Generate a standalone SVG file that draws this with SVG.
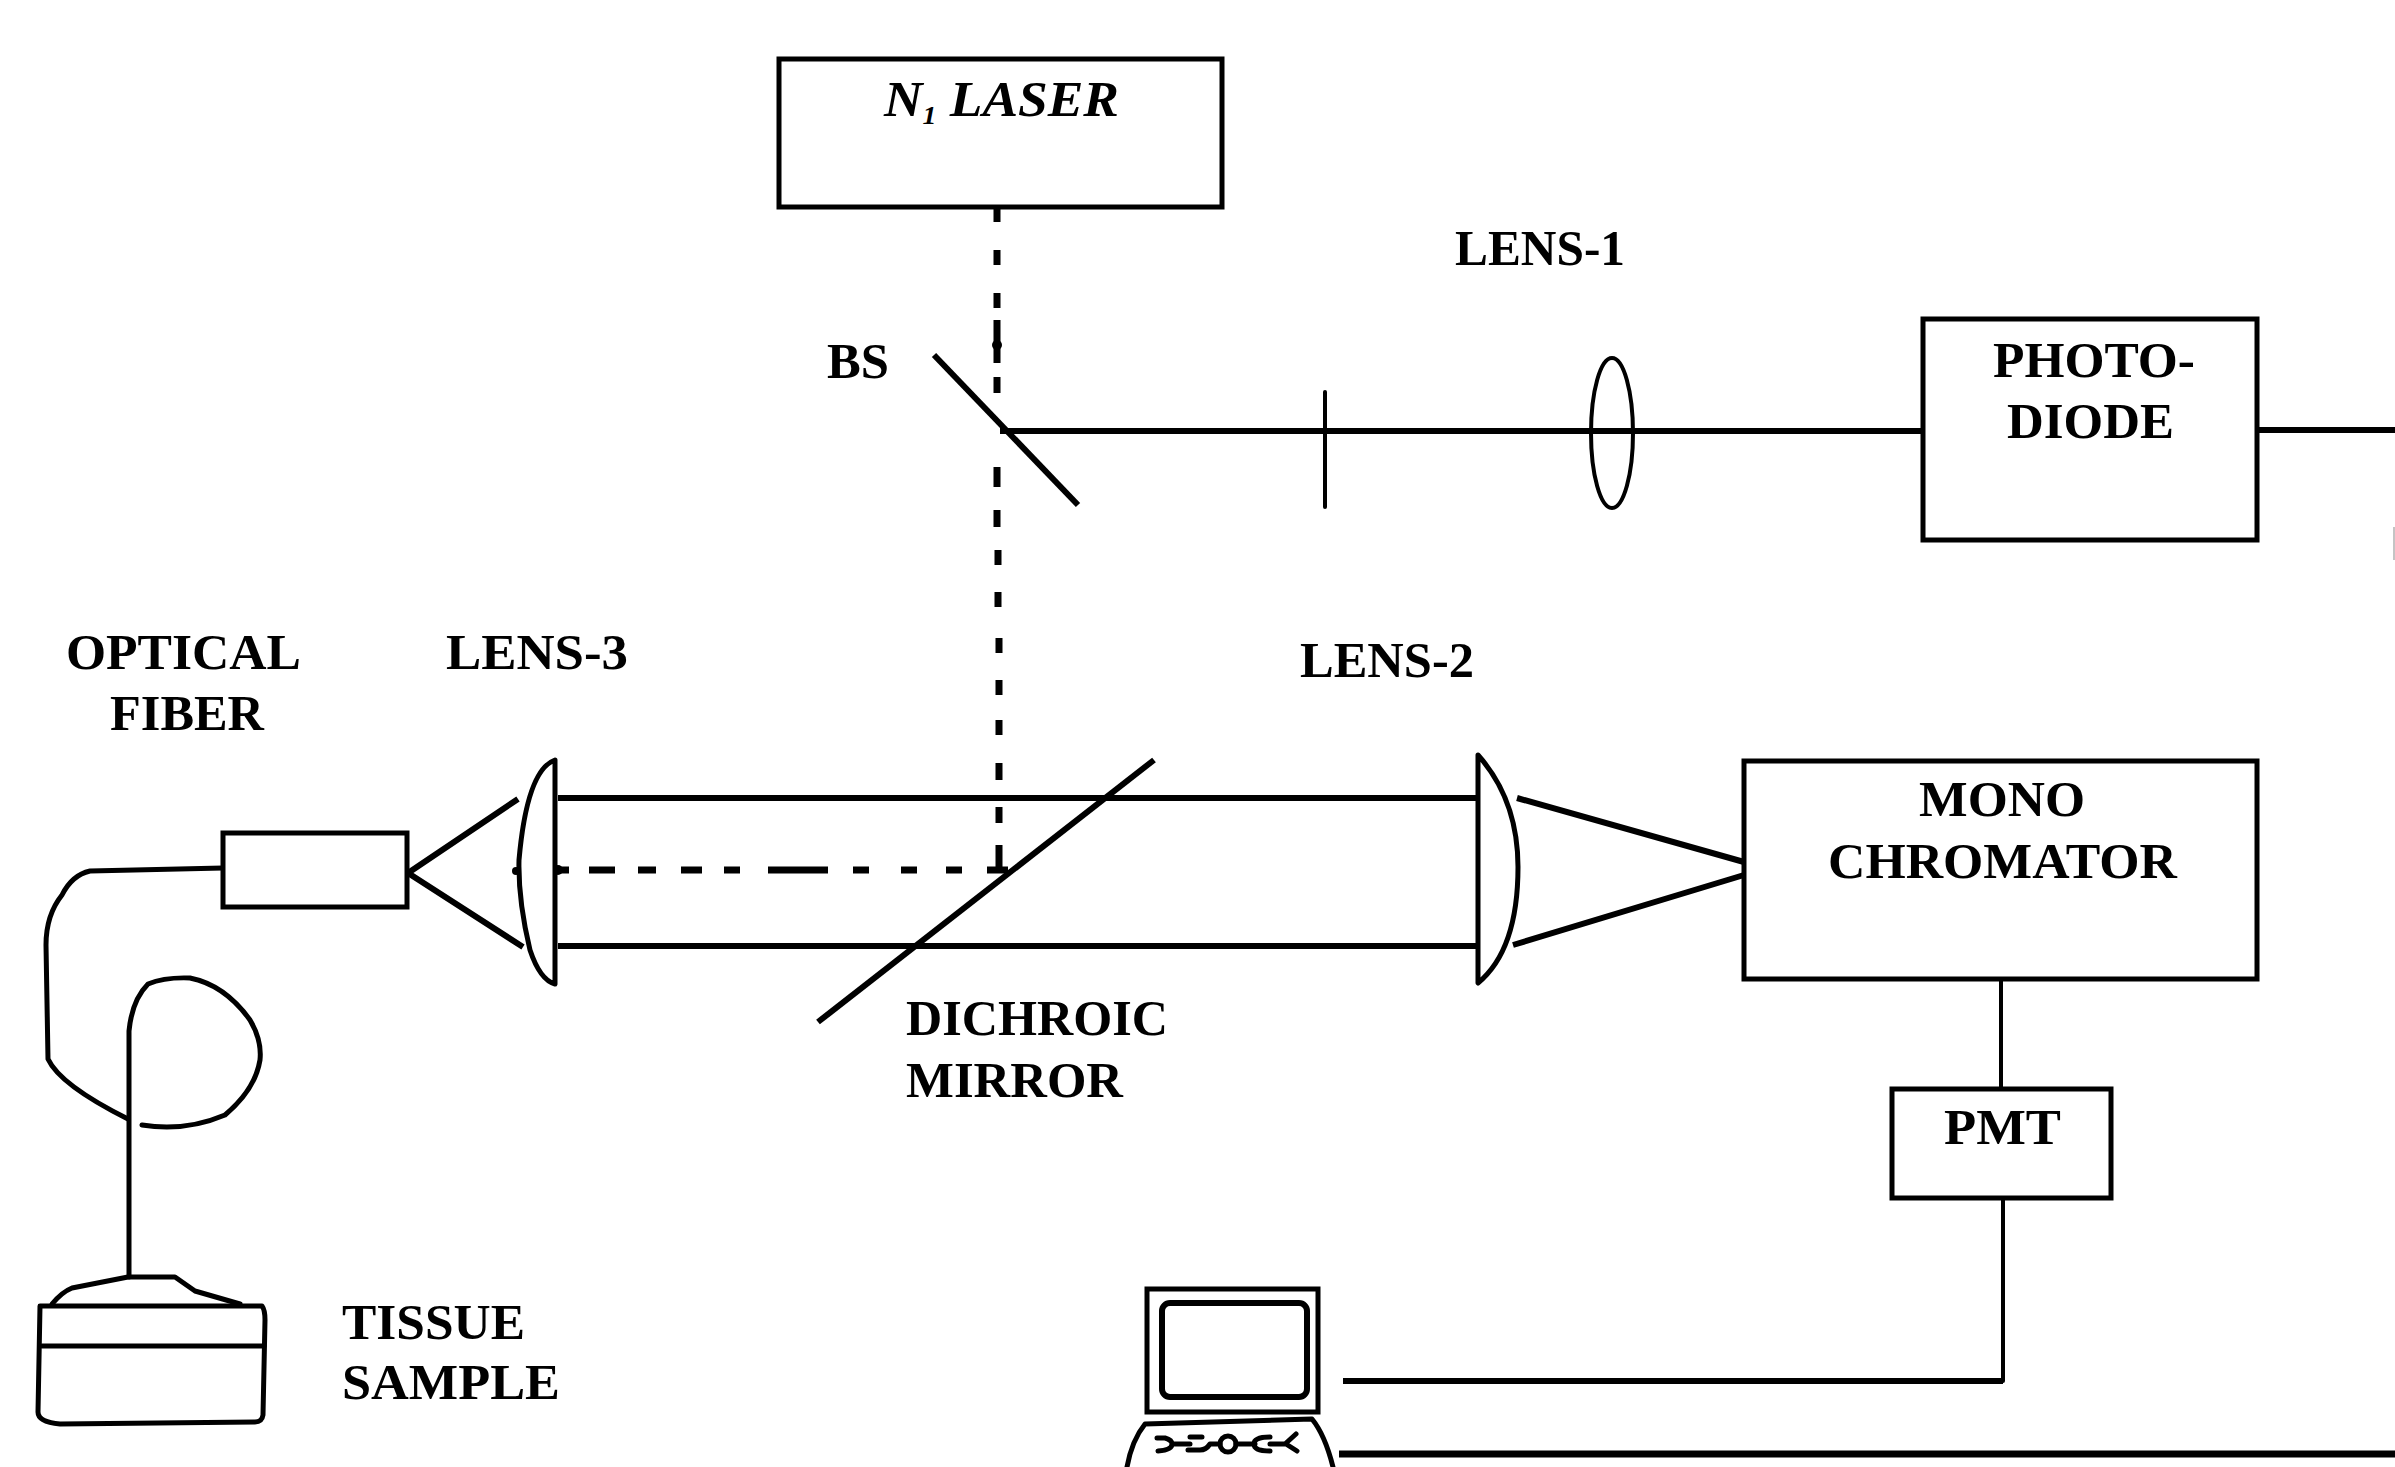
<svg xmlns="http://www.w3.org/2000/svg" width="2395" height="1467" viewBox="0 0 2395 1467">
<style>
.l{fill:none;stroke:#000;stroke-width:4;stroke-linejoin:round;stroke-linecap:round}
.f{fill:none;stroke:#000;stroke-width:5;stroke-linejoin:round;stroke-linecap:round}
.m{fill:none;stroke:#000;stroke-width:6;stroke-linejoin:round}
.b{fill:#fff;stroke:#000;stroke-width:5}
.d{fill:none;stroke:#000;stroke-width:7}
text{font-family:"Liberation Serif","Times New Roman",serif;font-weight:bold;font-size:50px;fill:#000}
</style>
<rect width="2395" height="1467" fill="#fff"/>
<line x1="2394" y1="527" x2="2394" y2="560" stroke="#b0b0b0" stroke-width="1.5"/>
<g id="connectors">
<path class="d" stroke-width="6" d="M997 207V222M997 250V265M997 293V308M997 320V363M997 377V393M997 467V487M997 510V527M998 550V565M998 592V607M999 638V653M999 680V695M999 720V735M999 763V780M999 807V823M999 845V870"/>
<circle cx="997" cy="345" r="5"/>
<path class="d" d="M559 870H569M589 870H615M638 870H656M681 870H702M724 870H740M768 870H828M853 870H869M901 870H917M946 870H962M987 870H1008"/>
<path class="m" d="M1000 431H1923M2257 430H2395"/>
<path class="m" d="M558 798H1478M558 946H1478"/>
<path class="m" d="M408 873L518 799M408 873L523 947"/>
<path class="m" d="M1517 798L1744 862M1513 945L1744 875"/>
<path class="l" d="M2001 979V1089M2003 1198V1381"/>
<path class="m" d="M1343 1381H2003"/>
<path class="m" style="stroke-width:7" d="M1339 1454H2395"/>
<path class="f" d="M223 868L90 871Q72 875 62 895Q46 915 46 945L48 1059Q60 1085 128 1119"/>
<path class="f" d="M129 1277V1031Q132 1000 148 984Q165 977 190 978Q225 985 250 1020Q262 1040 260 1060Q255 1090 225 1115Q185 1132 142 1125"/>
</g>
<g id="laser"><rect class="b" x="779" y="59" width="443" height="148"/><text x="884" y="116" font-style="italic" textLength="235" lengthAdjust="spacingAndGlyphs">N<tspan font-size="26" dy="8">1</tspan><tspan dy="-8"> LASER</tspan></text></g>
<g id="beam-splitter"><path class="m" d="M934 355L1078 505"/><text x="827" y="378" textLength="62" lengthAdjust="spacingAndGlyphs">BS</text></g>
<g id="aperture"><path class="l" d="M1325 392V507"/></g>
<g id="lens-1"><ellipse cx="1612" cy="433" rx="21" ry="75" class="l"/><text x="1455" y="265" textLength="170" lengthAdjust="spacingAndGlyphs">LENS-1</text></g>
<g id="photodiode"><rect class="b" x="1923" y="319" width="334" height="221"/><text x="1993" y="377" textLength="202" lengthAdjust="spacingAndGlyphs">PHOTO-</text><text x="2007" y="438" textLength="167" lengthAdjust="spacingAndGlyphs">DIODE</text></g>
<g id="lens-3"><path class="f" d="M555 760Q527 770 519 860Q518 900 530 950Q540 980 555 984Z"/><circle cx="516" cy="871" r="4"/><circle cx="558" cy="870" r="5"/><text x="446" y="669" textLength="182" lengthAdjust="spacingAndGlyphs">LENS-3</text></g>
<g id="lens-2"><path class="f" d="M1478 755Q1518 800 1518 867Q1518 950 1478 983Z"/><text x="1300" y="677" textLength="174" lengthAdjust="spacingAndGlyphs">LENS-2</text></g>
<g id="dichroic-mirror"><path class="m" d="M1154 760L818 1022"/><text x="906" y="1035" textLength="262" lengthAdjust="spacingAndGlyphs">DICHROIC</text><text x="906" y="1097" textLength="217" lengthAdjust="spacingAndGlyphs">MIRROR</text></g>
<g id="monochromator"><rect class="b" x="1744" y="761" width="513" height="218"/><text x="1919" y="816" textLength="166" lengthAdjust="spacingAndGlyphs">MONO</text><text x="1828" y="878" textLength="349" lengthAdjust="spacingAndGlyphs">CHROMATOR</text></g>
<g id="pmt"><rect class="b" x="1892" y="1089" width="219" height="109"/><text x="1944" y="1144" textLength="117" lengthAdjust="spacingAndGlyphs">PMT</text></g>
<g id="fiber-connector"><rect class="b" x="223" y="833" width="184" height="74"/><text x="66" y="669" textLength="235" lengthAdjust="spacingAndGlyphs">OPTICAL</text><text x="110" y="730" textLength="154" lengthAdjust="spacingAndGlyphs">FIBER</text></g>
<g id="tissue-sample"><path class="f" d="M52 1304Q62 1292 72 1288L128 1277H175L195 1291L240 1304"/><path class="f" d="M40 1306H262Q265 1310 265 1320L263 1415Q262 1422 255 1422L60 1424Q38 1422 38 1412Z"/><path class="f" d="M42 1346H264"/><text x="342" y="1339" textLength="183" lengthAdjust="spacingAndGlyphs">TISSUE</text><text x="342" y="1399" textLength="218" lengthAdjust="spacingAndGlyphs">SAMPLE</text></g>
<g id="computer"><rect class="b" x="1147" y="1289" width="171" height="123"/><rect class="m" x="1162" y="1303" width="145" height="94" rx="8"/><path class="f" d="M1127 1467Q1132 1440 1145 1424L1312 1419Q1325 1435 1333 1467"/><path class="f" d="M1157 1438H1165Q1172 1440 1172 1444Q1172 1450 1158 1451M1172 1444H1190M1190 1437H1202M1188 1450H1200Q1206 1450 1210 1444H1220M1236 1444H1255M1270 1437Q1254 1437 1254 1444Q1254 1451 1270 1451M1270 1444H1285L1296 1434M1286 1444L1297 1451"/><circle class="f" cx="1228" cy="1444" r="8"/></g>
</svg>
